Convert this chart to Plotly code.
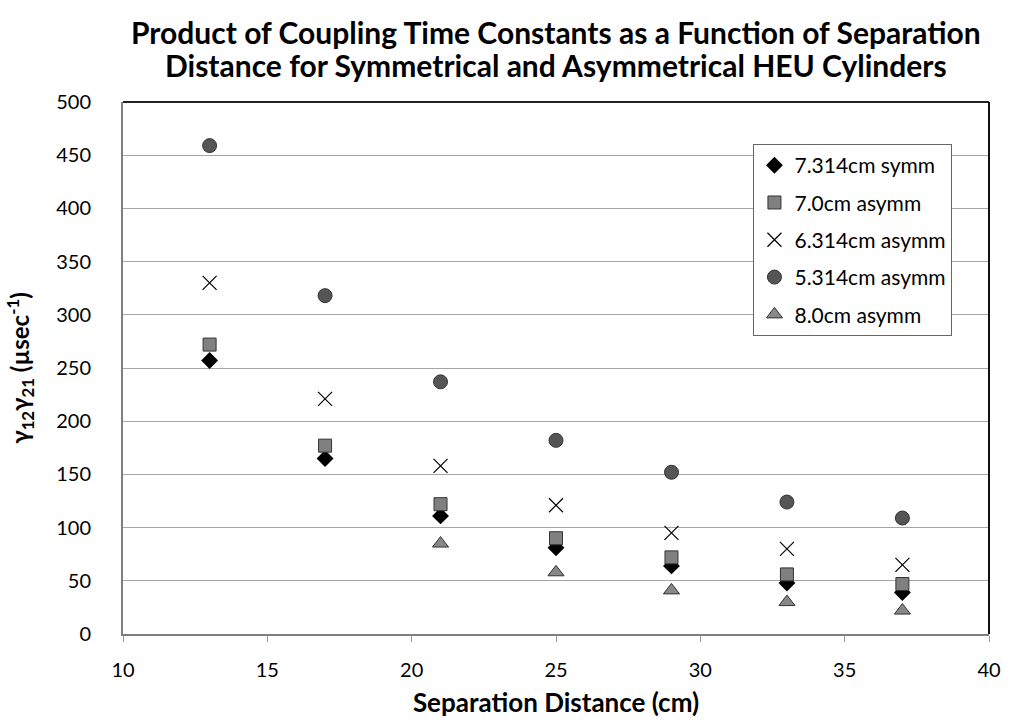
import plotly.graph_objects as go

x_vals = [13, 17, 21, 25, 29, 33, 37]
x_tri = [21, 25, 29, 33, 37]

symm_7314 = [257, 165, 111, 81, 64, 48, 39]
asymm_70 = [272, 177, 122, 90, 72, 56, 47]
asymm_6314 = [330, 221, 158, 121, 95, 80, 65]
asymm_5314 = [459, 318, 237, 182, 152, 124, 109]
asymm_80 = [85, 58, 41, 30, 22]

names = ["7.314cm symm", "7.0cm asymm", "6.314cm asymm", "5.314cm asymm", "8.0cm asymm"]
title_lines = ["Product of Coupling Time Constants as a Function of Separation",
               "Distance for Symmetrical and Asymmetrical HEU Cylinders"]

fig = go.Figure()
fig.add_trace(go.Scatter(x=x_vals, y=symm_7314, mode="markers", name=names[0], legendgroup="a",
                         marker=dict(symbol="diamond", size=13, color="black", line=dict(width=0))))
fig.add_trace(go.Scatter(x=x_vals, y=asymm_70, mode="markers", name=names[1], legendgroup="b",
                         marker=dict(symbol="square", size=13, color="#808080", line=dict(width=1, color="#333333"))))
fig.add_trace(go.Scatter(x=x_vals, y=asymm_6314, mode="markers", name=names[2], legendgroup="c",
                         marker=dict(symbol="x-thin-open", size=14, color="black", line=dict(width=1.2, color="#222222"))))
fig.add_trace(go.Scatter(x=x_vals, y=asymm_5314, mode="markers", name=names[3], legendgroup="d",
                         marker=dict(symbol="circle", size=14, color="#555555", line=dict(width=1, color="#333333"))))
fig.add_trace(go.Scatter(x=x_tri, y=asymm_80, mode="markers", name=names[4], legendgroup="e",
                         marker=dict(symbol="triangle-up", size=14, color="#888888", line=dict(width=1, color="#333333"))))

font_family = "Lato, 'Open Sans', sans-serif"

fig.update_layout(
    width=1013, height=725,
    margin=dict(l=123, r=18, t=102, b=89),
    paper_bgcolor="white", plot_bgcolor="white",
    font=dict(family=font_family, size=20, color="black"),
    xaxis=dict(range=[10, 40], dtick=5, tick0=10, showgrid=False, zeroline=False,
               showline=True, linecolor="#7f7f7f", linewidth=2,
               ticks="outside", ticklen=6, tickcolor="#999999", tickwidth=1,
               tickfont=dict(size=20), ticklabelstandoff=11,
               title=dict(text="<b>Separation Distance (cm)</b>", font=dict(size=26), standoff=14)),
    yaxis=dict(range=[0, 500], dtick=50, showgrid=True, gridcolor="#a6a6a6", gridwidth=1.2,
               zeroline=False, showline=True, linecolor="#7f7f7f", linewidth=2,
               ticks="", tickfont=dict(size=20), ticklabelstandoff=26,
               title=dict(text="<b>γ<sub>12</sub>γ<sub>21</sub> (µsec<sup>-1</sup>)</b>", font=dict(size=24), standoff=20)),
    legend=dict(x=0.728, y=0.921, xanchor="left", yanchor="top",
                bordercolor="#666666", borderwidth=1, bgcolor="white",
                font=dict(size=21), tracegroupgap=7, traceorder="grouped",
                itemwidth=30),
    showlegend=True,
)

fig.add_annotation(text="<b>" + title_lines[0] + "</b>", xref="x domain", yref="paper",
                   x=0.5, y=(636 - 32) / 534, xanchor="center", yanchor="middle", showarrow=False,
                   font=dict(size=30, family=font_family, color="black"))
fig.add_annotation(text="<b>" + title_lines[1] + "</b>", xref="x domain", yref="paper",
                   x=0.5, y=(636 - 65) / 534, xanchor="center", yanchor="middle", showarrow=False,
                   font=dict(size=30, family=font_family, color="black"))

fig.add_shape(type="line", xref="x domain", yref="y domain", x0=0, x1=1, y0=1, y1=1,
              line=dict(color="#222222", width=2))
fig.add_shape(type="line", xref="x domain", yref="y domain", x0=1, x1=1, y0=0, y1=1,
              line=dict(color="#111111", width=2))

fig.write_html("out.html")
